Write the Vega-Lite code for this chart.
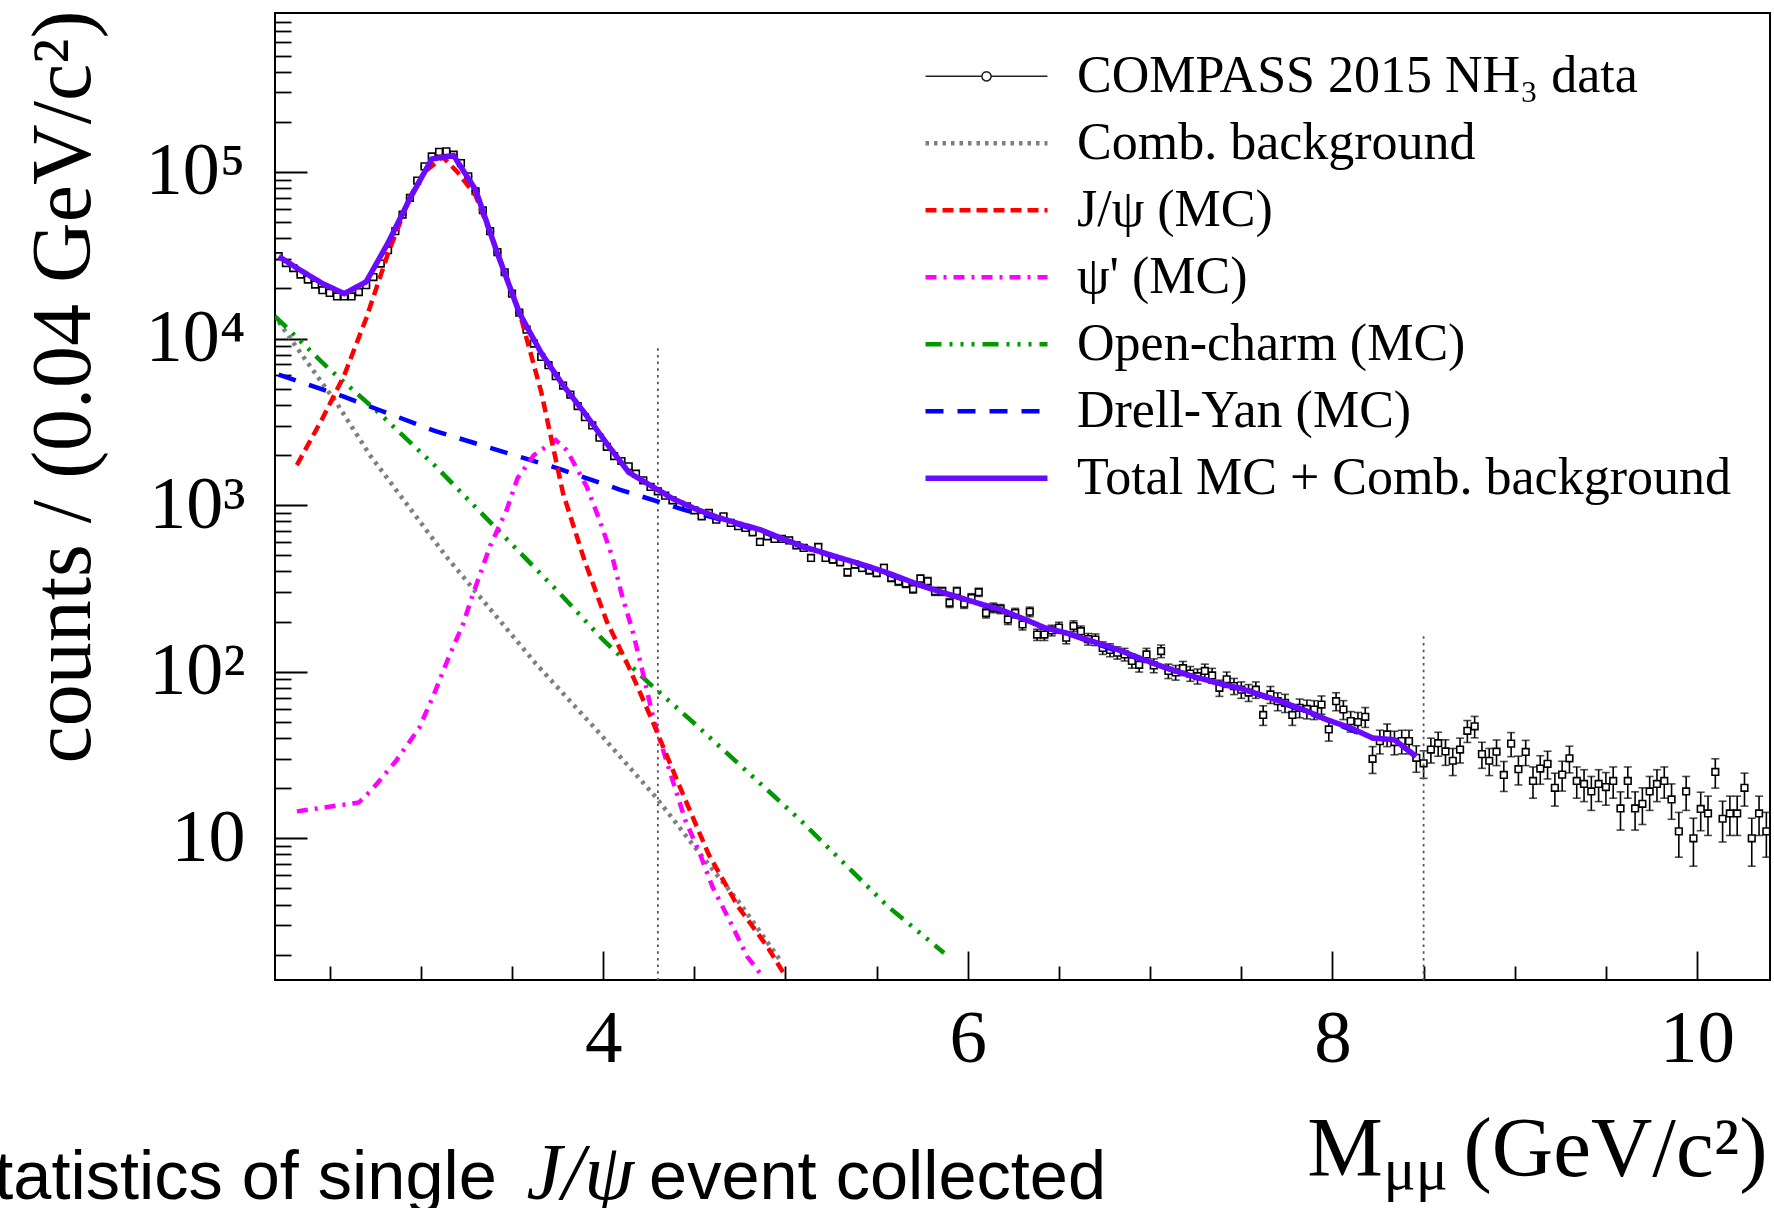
{
"$schema": "https://vega.github.io/schema/vega-lite/v6.json",
"width": 1495, "height": 967,
"autosize": {"type": "none"},
"padding": {"left": 275, "top": 13, "right": 4, "bottom": 228},
"background": "white",
"config": {"view": {"stroke": "black", "strokeWidth": 2}, "font": "Liberation Serif"},
"title": {"text": "statistics of single\u00a0\u00a0\u00a0\u00a0\u00a0\u00a0\u00a0\u00a0event collected", "orient": "bottom", "anchor": "start", "frame": "group", "font": "Liberation Sans", "fontSize": 68.5, "fontWeight": "normal", "color": "black", "baseline": "alphabetic", "offset": 0, "dx": -315, "dy": -15},
"datasets": {
"pts": [
{"m":2.22,"n":31200,"lo":31023,"hi":31377},{"m":2.26,"n":28400,"lo":28231,"hi":28569},{"m":2.30,"n":26500,"lo":26337,"hi":26663},{"m":2.34,"n":24200,"lo":24044,"hi":24356},{"m":2.38,"n":22600,"lo":22450,"hi":22750},{"m":2.42,"n":21100,"lo":20955,"hi":21245},{"m":2.46,"n":19500,"lo":19360,"hi":19640},{"m":2.50,"n":18800,"lo":18663,"hi":18937},{"m":2.54,"n":17900,"lo":17766,"hi":18034},{"m":2.58,"n":17900,"lo":17766,"hi":18034},{"m":2.62,"n":17900,"lo":17766,"hi":18034},{"m":2.66,"n":19000,"lo":18862,"hi":19138},{"m":2.70,"n":20900,"lo":20755,"hi":21045},{"m":2.74,"n":23400,"lo":23247,"hi":23553},{"m":2.78,"n":28200,"lo":28032,"hi":28368},{"m":2.82,"n":33900,"lo":33716,"hi":34084},{"m":2.86,"n":44100,"lo":43890,"hi":44310},{"m":2.90,"n":55500,"lo":55264,"hi":55736},{"m":2.94,"n":69800,"lo":69536,"hi":70064},{"m":2.98,"n":88700,"lo":88402,"hi":88998},
{"m":3.02,"n":108000,"lo":107671,"hi":108329},{"m":3.06,"n":124000,"lo":123648,"hi":124352},{"m":3.10,"n":132000,"lo":131637,"hi":132363},{"m":3.14,"n":133000,"lo":132635,"hi":133365},{"m":3.18,"n":127000,"lo":126644,"hi":127356},{"m":3.22,"n":113000,"lo":112664,"hi":113336},{"m":3.26,"n":94200,"lo":93893,"hi":94507},{"m":3.30,"n":76600,"lo":76323,"hi":76877},{"m":3.34,"n":58900,"lo":58657,"hi":59143},{"m":3.38,"n":44100,"lo":43890,"hi":44310},{"m":3.42,"n":33000,"lo":32818,"hi":33182},{"m":3.46,"n":25000,"lo":24842,"hi":25158},{"m":3.50,"n":18600,"lo":18464,"hi":18736},{"m":3.54,"n":14300,"lo":14180,"hi":14420},{"m":3.58,"n":11300,"lo":11194,"hi":11406},{"m":3.62,"n":9330,"lo":9233,"hi":9427},{"m":3.66,"n":7760,"lo":7672,"hi":7848},{"m":3.70,"n":6920,"lo":6837,"hi":7003},{"m":3.74,"n":5940,"lo":5863,"hi":6017},{"m":3.78,"n":5220,"lo":5148,"hi":5292},
{"m":3.82,"n":4610,"lo":4542,"hi":4678},{"m":3.86,"n":3930,"lo":3867,"hi":3993},{"m":3.90,"n":3370,"lo":3312,"hi":3428},{"m":3.94,"n":3010,"lo":2955,"hi":3065},{"m":3.98,"n":2540,"lo":2490,"hi":2590},{"m":4.02,"n":2240,"lo":2193,"hi":2287},{"m":4.06,"n":1970,"lo":1926,"hi":2014},{"m":4.10,"n":1840,"lo":1797,"hi":1883},{"m":4.14,"n":1710,"lo":1669,"hi":1751},{"m":4.18,"n":1545,"lo":1506,"hi":1584},{"m":4.22,"n":1409,"lo":1371,"hi":1447},{"m":4.26,"n":1285,"lo":1249,"hi":1321},{"m":4.30,"n":1211,"lo":1176,"hi":1246},{"m":4.34,"n":1140,"lo":1106,"hi":1174},{"m":4.38,"n":1069,"lo":1036,"hi":1102},{"m":4.42,"n":1007,"lo":975,"hi":1039},{"m":4.46,"n":984,"lo":953,"hi":1015},{"m":4.50,"n":931,"lo":900,"hi":962},{"m":4.54,"n":857,"lo":828,"hi":886},{"m":4.58,"n":897,"lo":867,"hi":927},
{"m":4.62,"n":818,"lo":789,"hi":847},{"m":4.66,"n":857,"lo":828,"hi":886},{"m":4.70,"n":782,"lo":754,"hi":810},{"m":4.74,"n":747,"lo":720,"hi":774},{"m":4.78,"n":730,"lo":703,"hi":757},{"m":4.82,"n":687,"lo":661,"hi":713},{"m":4.86,"n":601,"lo":577,"hi":625},{"m":4.90,"n":650,"lo":625,"hi":676},{"m":4.94,"n":627,"lo":602,"hi":652},{"m":4.98,"n":627,"lo":602,"hi":652},{"m":5.02,"n":615,"lo":590,"hi":640},{"m":5.06,"n":574,"lo":550,"hi":598},{"m":5.10,"n":553,"lo":530,"hi":577},{"m":5.14,"n":482,"lo":460,"hi":504},{"m":5.18,"n":561,"lo":537,"hi":585},{"m":5.22,"n":482,"lo":460,"hi":504},{"m":5.26,"n":471,"lo":449,"hi":493},{"m":5.30,"n":454,"lo":433,"hi":475},{"m":5.34,"n":395,"lo":375,"hi":415},{"m":5.38,"n":440,"lo":419,"hi":461},
{"m":5.42,"n":420,"lo":400,"hi":440},{"m":5.46,"n":406,"lo":386,"hi":426},{"m":5.50,"n":392,"lo":372,"hi":412},{"m":5.54,"n":420,"lo":400,"hi":440},{"m":5.58,"n":366,"lo":347,"hi":385},{"m":5.62,"n":349,"lo":330,"hi":368},{"m":5.66,"n":338,"lo":320,"hi":356},{"m":5.70,"n":314,"lo":296,"hi":332},{"m":5.74,"n":362,"lo":343,"hi":381},{"m":5.78,"n":349,"lo":330,"hi":368},{"m":5.82,"n":304,"lo":287,"hi":321},{"m":5.86,"n":304,"lo":287,"hi":321},{"m":5.90,"n":259,"lo":243,"hi":275},{"m":5.94,"n":304,"lo":287,"hi":321},{"m":5.98,"n":256,"lo":240,"hi":272},{"m":6.02,"n":277,"lo":260,"hi":294},{"m":6.06,"n":300,"lo":283,"hi":317},{"m":6.10,"n":225,"lo":210,"hi":240},{"m":6.14,"n":242,"lo":226,"hi":258},{"m":6.18,"n":238,"lo":223,"hi":253},
{"m":6.22,"n":206,"lo":192,"hi":220},{"m":6.26,"n":225,"lo":210,"hi":240},{"m":6.30,"n":192,"lo":178,"hi":206},{"m":6.34,"n":229,"lo":214,"hi":244},{"m":6.38,"n":167,"lo":154,"hi":180},{"m":6.42,"n":167,"lo":154,"hi":180},{"m":6.46,"n":177,"lo":164,"hi":190},{"m":6.50,"n":184,"lo":170,"hi":198},{"m":6.54,"n":160,"lo":147,"hi":173},{"m":6.58,"n":188,"lo":174,"hi":202},{"m":6.62,"n":175,"lo":162,"hi":188},{"m":6.66,"n":157,"lo":144.5,"hi":169.5},{"m":6.70,"n":156,"lo":143.5,"hi":168.5},{"m":6.74,"n":139,"lo":127,"hi":151},{"m":6.78,"n":135,"lo":123,"hi":147},{"m":6.82,"n":130,"lo":119,"hi":141},{"m":6.86,"n":127,"lo":116,"hi":138},{"m":6.90,"n":116,"lo":105,"hi":127},{"m":6.94,"n":110,"lo":99.5,"hi":120.5},{"m":6.98,"n":127,"lo":116,"hi":138},
{"m":7.02,"n":109,"lo":98.6,"hi":119.4},{"m":7.06,"n":133,"lo":121.5,"hi":144.5},{"m":7.10,"n":101,"lo":91,"hi":111},{"m":7.14,"n":99,"lo":89,"hi":109},{"m":7.18,"n":105,"lo":94.8,"hi":115.2},{"m":7.22,"n":97.5,"lo":87.6,"hi":107.4},{"m":7.26,"n":94,"lo":84.3,"hi":103.7},{"m":7.30,"n":101,"lo":91,"hi":111},{"m":7.34,"n":95,"lo":85.3,"hi":104.7},{"m":7.38,"n":80,"lo":71.1,"hi":88.9},{"m":7.42,"n":90,"lo":80.5,"hi":99.5},{"m":7.46,"n":82,"lo":72.9,"hi":91.1},{"m":7.50,"n":78,"lo":69.2,"hi":86.8},{"m":7.54,"n":75,"lo":66.3,"hi":83.7},{"m":7.58,"n":78,"lo":69.2,"hi":86.8},{"m":7.62,"n":55,"lo":47.6,"hi":62.4},{"m":7.66,"n":73,"lo":64.5,"hi":81.5},{"m":7.70,"n":66.5,"lo":58.3,"hi":74.7},{"m":7.74,"n":65,"lo":56.9,"hi":73.1},{"m":7.78,"n":55,"lo":47.6,"hi":62.4},
{"m":7.82,"n":60.7,"lo":52.9,"hi":68.5},{"m":7.86,"n":59.8,"lo":52.1,"hi":67.5},{"m":7.90,"n":59.3,"lo":51.6,"hi":67},{"m":7.94,"n":63.5,"lo":55.5,"hi":71.5},{"m":7.98,"n":45,"lo":38.3,"hi":51.7},{"m":8.02,"n":66.5,"lo":58.3,"hi":74.7},{"m":8.06,"n":59.3,"lo":51.6,"hi":67},{"m":8.10,"n":50.5,"lo":43.4,"hi":57.6},{"m":8.14,"n":49.8,"lo":42.7,"hi":56.9},{"m":8.18,"n":53.6,"lo":46.3,"hi":60.9},{"m":8.22,"n":30,"lo":24.5,"hi":35.5},{"m":8.26,"n":38.3,"lo":32.1,"hi":44.5},{"m":8.30,"n":42,"lo":35.5,"hi":48.5},{"m":8.34,"n":37.8,"lo":31.7,"hi":43.9},{"m":8.38,"n":38.3,"lo":32.1,"hi":44.5},{"m":8.42,"n":38.3,"lo":32.1,"hi":44.5},{"m":8.46,"n":30.4,"lo":24.9,"hi":35.9},{"m":8.50,"n":28.2,"lo":22.9,"hi":33.5},{"m":8.54,"n":34.1,"lo":28.3,"hi":39.9},{"m":8.58,"n":37.2,"lo":31.1,"hi":43.3},
{"m":8.62,"n":33.2,"lo":27.4,"hi":39},{"m":8.66,"n":29.2,"lo":23.8,"hi":34.6},{"m":8.70,"n":34.1,"lo":28.3,"hi":39.9},{"m":8.74,"n":44.2,"lo":37.6,"hi":50.9},{"m":8.78,"n":47,"lo":40.1,"hi":53.9},{"m":8.82,"n":32,"lo":26.3,"hi":37.7},{"m":8.86,"n":29.2,"lo":23.8,"hi":34.6},{"m":8.90,"n":33.1,"lo":27.3,"hi":38.9},{"m":8.94,"n":24,"lo":19.1,"hi":28.9},{"m":8.98,"n":37,"lo":30.9,"hi":43.1},{"m":9.02,"n":26,"lo":20.9,"hi":31.1},{"m":9.06,"n":33,"lo":27.3,"hi":38.7},{"m":9.10,"n":22.1,"lo":17.4,"hi":26.8},{"m":9.14,"n":26.2,"lo":21.1,"hi":31.3},{"m":9.18,"n":28,"lo":22.7,"hi":33.3},{"m":9.22,"n":20.1,"lo":15.6,"hi":24.6},{"m":9.26,"n":24.1,"lo":19.2,"hi":29},{"m":9.30,"n":30.2,"lo":24.7,"hi":35.7},{"m":9.34,"n":22.1,"lo":17.4,"hi":26.8},{"m":9.38,"n":21.2,"lo":16.6,"hi":25.8},
{"m":9.42,"n":19.1,"lo":14.7,"hi":23.5},{"m":9.46,"n":21.2,"lo":16.6,"hi":25.8},{"m":9.50,"n":20.3,"lo":15.8,"hi":24.8},{"m":9.54,"n":22.1,"lo":17.4,"hi":26.8},{"m":9.58,"n":15.1,"lo":11.2,"hi":19},{"m":9.62,"n":22.1,"lo":17.4,"hi":26.8},{"m":9.66,"n":15.1,"lo":11.2,"hi":19},{"m":9.70,"n":16.1,"lo":12.1,"hi":20.1},{"m":9.74,"n":19.1,"lo":14.7,"hi":23.5},{"m":9.78,"n":21.2,"lo":16.6,"hi":25.8},{"m":9.82,"n":22.1,"lo":17.4,"hi":26.8},{"m":9.86,"n":17.1,"lo":13,"hi":21.2},{"m":9.90,"n":11,"lo":7.7,"hi":14.3},{"m":9.94,"n":19.1,"lo":14.7,"hi":23.5},{"m":9.98,"n":10,"lo":6.8,"hi":13.2},{"m":10.02,"n":15,"lo":11.1,"hi":18.9},{"m":10.06,"n":14.1,"lo":10.4,"hi":17.9},{"m":10.10,"n":25,"lo":20,"hi":30},{"m":10.14,"n":13.1,"lo":9.5,"hi":16.7},{"m":10.18,"n":14.1,"lo":10.4,"hi":17.9},
{"m":10.22,"n":14.1,"lo":10.4,"hi":17.9},{"m":10.26,"n":20.1,"lo":15.6,"hi":24.6},{"m":10.30,"n":10,"lo":6.8,"hi":13.2},{"m":10.34,"n":14.1,"lo":10.4,"hi":17.9},{"m":10.38,"n":11,"lo":7.7,"hi":14.3}
],
"curves": [
{"s":"Comb. background","m":2.22,"n":12600},{"s":"Comb. background","m":2.33,"n":8500},{"s":"Comb. background","m":2.54,"n":4070},{"s":"Comb. background","m":2.72,"n":2000},{"s":"Comb. background","m":3.14,"n":490},{"s":"Comb. background","m":3.63,"n":112},{"s":"Comb. background","m":3.98,"n":42.7},{"s":"Comb. background","m":4.29,"n":17.6},{"s":"Comb. background","m":4.53,"n":8.1},{"s":"Comb. background","m":4.75,"n":4.07},{"s":"Comb. background","m":4.97,"n":1.86},
{"s":"Open-charm (MC)","m":2.20,"n":13600},{"s":"Open-charm (MC)","m":2.49,"n":6670},{"s":"Open-charm (MC)","m":2.77,"n":3580},{"s":"Open-charm (MC)","m":3.08,"n":1714},{"s":"Open-charm (MC)","m":3.76,"n":297},{"s":"Open-charm (MC)","m":4.00,"n":155},{"s":"Open-charm (MC)","m":4.25,"n":85.7},{"s":"Open-charm (MC)","m":4.49,"n":50.1},{"s":"Open-charm (MC)","m":5.08,"n":12.9},{"s":"Open-charm (MC)","m":5.56,"n":3.91},{"s":"Open-charm (MC)","m":5.87,"n":2.05},
{"s":"Drell-Yan (MC)","m":2.22,"n":6080},{"s":"Drell-Yan (MC)","m":2.57,"n":4510},{"s":"Drell-Yan (MC)","m":3.08,"n":2780},{"s":"Drell-Yan (MC)","m":3.59,"n":1880},{"s":"Drell-Yan (MC)","m":3.76,"n":1650},{"s":"Drell-Yan (MC)","m":4.09,"n":1240},{"s":"Drell-Yan (MC)","m":4.44,"n":940},{"s":"Drell-Yan (MC)","m":4.62,"n":832},{"s":"Drell-Yan (MC)","m":4.86,"n":700},{"s":"Drell-Yan (MC)","m":5.10,"n":556},{"s":"Drell-Yan (MC)","m":5.46,"n":422},{"s":"Drell-Yan (MC)","m":5.70,"n":339},{"s":"Drell-Yan (MC)","m":5.94,"n":279},{"s":"Drell-Yan (MC)","m":6.18,"n":234},{"s":"Drell-Yan (MC)","m":6.42,"n":183},{"s":"Drell-Yan (MC)","m":6.54,"n":170},{"s":"Drell-Yan (MC)","m":7.14,"n":100},{"s":"Drell-Yan (MC)","m":7.50,"n":78.9},{"s":"Drell-Yan (MC)","m":7.86,"n":57.1},{"s":"Drell-Yan (MC)","m":8.22,"n":39.8},{"s":"Drell-Yan (MC)","m":8.34,"n":38.9},{"s":"Drell-Yan (MC)","m":8.46,"n":30.6},
{"s":"ψ' (MC)","m":2.32,"n":14.5},{"s":"ψ' (MC)","m":2.66,"n":16.4},{"s":"ψ' (MC)","m":2.73,"n":19.5},{"s":"ψ' (MC)","m":2.86,"n":28.8},{"s":"ψ' (MC)","m":2.99,"n":45.7},{"s":"ψ' (MC)","m":3.07,"n":72.4},{"s":"ψ' (MC)","m":3.15,"n":120},{"s":"ψ' (MC)","m":3.23,"n":191},{"s":"ψ' (MC)","m":3.28,"n":280},{"s":"ψ' (MC)","m":3.38,"n":569},{"s":"ψ' (MC)","m":3.47,"n":931},{"s":"ψ' (MC)","m":3.53,"n":1450},{"s":"ψ' (MC)","m":3.62,"n":1995},{"s":"ψ' (MC)","m":3.74,"n":2455},{"s":"ψ' (MC)","m":3.80,"n":2140},{"s":"ψ' (MC)","m":3.91,"n":1290},{"s":"ψ' (MC)","m":3.98,"n":813},{"s":"ψ' (MC)","m":4.05,"n":490},{"s":"ψ' (MC)","m":4.10,"n":295},{"s":"ψ' (MC)","m":4.16,"n":178},{"s":"ψ' (MC)","m":4.21,"n":107},{"s":"ψ' (MC)","m":4.28,"n":50},{"s":"ψ' (MC)","m":4.38,"n":22.4},{"s":"ψ' (MC)","m":4.45,"n":12.9},{"s":"ψ' (MC)","m":4.53,"n":8.1},{"s":"ψ' (MC)","m":4.60,"n":5.1},{"s":"ψ' (MC)","m":4.70,"n":3.1},{"s":"ψ' (MC)","m":4.79,"n":1.95},{"s":"ψ' (MC)","m":4.86,"n":1.55},
{"s":"J/ψ (MC)","m":2.32,"n":1740},{"s":"J/ψ (MC)","m":2.46,"n":3310},{"s":"J/ψ (MC)","m":2.58,"n":6030},{"s":"J/ψ (MC)","m":2.70,"n":13200},{"s":"J/ψ (MC)","m":2.82,"n":32400},{"s":"J/ψ (MC)","m":2.94,"n":70800},{"s":"J/ψ (MC)","m":3.02,"n":100000},{"s":"J/ψ (MC)","m":3.12,"n":123000},{"s":"J/ψ (MC)","m":3.20,"n":100000},{"s":"J/ψ (MC)","m":3.30,"n":72400},{"s":"J/ψ (MC)","m":3.42,"n":33100},{"s":"J/ψ (MC)","m":3.54,"n":14500},{"s":"J/ψ (MC)","m":3.66,"n":4790},{"s":"J/ψ (MC)","m":3.78,"n":1175},{"s":"J/ψ (MC)","m":3.90,"n":457},{"s":"J/ψ (MC)","m":4.02,"n":200},{"s":"J/ψ (MC)","m":4.14,"n":107},{"s":"J/ψ (MC)","m":4.26,"n":53.7},{"s":"J/ψ (MC)","m":4.42,"n":20.4},{"s":"J/ψ (MC)","m":4.58,"n":7.94},{"s":"J/ψ (MC)","m":4.74,"n":3.89},{"s":"J/ψ (MC)","m":4.90,"n":2.24},{"s":"J/ψ (MC)","m":4.99,"n":1.55}
],
"total": [
{"s":"Total MC + Comb. background","m":2.22,"n":31100},{"s":"Total MC + Comb. background","m":2.34,"n":25700},{"s":"Total MC + Comb. background","m":2.46,"n":21400},{"s":"Total MC + Comb. background","m":2.58,"n":18600},{"s":"Total MC + Comb. background","m":2.70,"n":21900},{"s":"Total MC + Comb. background","m":2.82,"n":37500},{"s":"Total MC + Comb. background","m":2.94,"n":69200},{"s":"Total MC + Comb. background","m":3.06,"n":119700},{"s":"Total MC + Comb. background","m":3.18,"n":125300},{"s":"Total MC + Comb. background","m":3.30,"n":78300},{"s":"Total MC + Comb. background","m":3.42,"n":32400},{"s":"Total MC + Comb. background","m":3.54,"n":14260},{"s":"Total MC + Comb. background","m":3.66,"n":8200},{"s":"Total MC + Comb. background","m":3.78,"n":5250},{"s":"Total MC + Comb. background","m":3.90,"n":3550},{"s":"Total MC + Comb. background","m":4.02,"n":2340},{"s":"Total MC + Comb. background","m":4.14,"n":1574},{"s":"Total MC + Comb. background","m":4.26,"n":1312},{"s":"Total MC + Comb. background","m":4.38,"n":1096},{"s":"Total MC + Comb. background","m":4.50,"n":955},{"s":"Total MC + Comb. background","m":4.62,"n":851},{"s":"Total MC + Comb. background","m":4.74,"n":776},{"s":"Total MC + Comb. background","m":4.86,"n":713},{"s":"Total MC + Comb. background","m":4.98,"n":631},{"s":"Total MC + Comb. background","m":5.10,"n":562},{"s":"Total MC + Comb. background","m":5.22,"n":513},{"s":"Total MC + Comb. background","m":5.34,"n":468},{"s":"Total MC + Comb. background","m":5.46,"n":427},{"s":"Total MC + Comb. background","m":5.58,"n":385},{"s":"Total MC + Comb. background","m":5.70,"n":343},{"s":"Total MC + Comb. background","m":5.82,"n":309},{"s":"Total MC + Comb. background","m":5.94,"n":282},{"s":"Total MC + Comb. background","m":6.06,"n":257},{"s":"Total MC + Comb. background","m":6.18,"n":236},{"s":"Total MC + Comb. background","m":6.30,"n":209},{"s":"Total MC + Comb. background","m":6.42,"n":184},{"s":"Total MC + Comb. background","m":6.54,"n":171},{"s":"Total MC + Comb. background","m":6.66,"n":155},{"s":"Total MC + Comb. background","m":6.78,"n":141},{"s":"Total MC + Comb. background","m":6.90,"n":126},{"s":"Total MC + Comb. background","m":7.02,"n":112},{"s":"Total MC + Comb. background","m":7.14,"n":101},{"s":"Total MC + Comb. background","m":7.26,"n":92},{"s":"Total MC + Comb. background","m":7.38,"n":85},{"s":"Total MC + Comb. background","m":7.50,"n":79},{"s":"Total MC + Comb. background","m":7.62,"n":72},{"s":"Total MC + Comb. background","m":7.74,"n":65},{"s":"Total MC + Comb. background","m":7.86,"n":58},{"s":"Total MC + Comb. background","m":7.98,"n":51},{"s":"Total MC + Comb. background","m":8.10,"n":46},{"s":"Total MC + Comb. background","m":8.22,"n":40},{"s":"Total MC + Comb. background","m":8.34,"n":39},{"s":"Total MC + Comb. background","m":8.46,"n":31}
],
"vl": [{"m":4.3,"a":1.4,"b":9060},{"m":8.5,"a":1.4,"b":172}]
},
"resolve": {"axis": {"x": "independent", "y": "independent"}},
"layer": [
{
"data": {"name": "pts"},
"mark": {"type": "rule", "color": "black", "strokeWidth": 1.6},
"encoding": {
"x": {"field": "m", "type": "quantitative", "scale": {"domain": [2.2, 10.4], "nice": false, "zero": false},
 "axis": {"orient": "bottom", "values": [2.5,3,3.5,4.5,5,5.5,6.5,7,7.5,8.5,9,9.5], "tickSize": -14, "tickWidth": 1.8, "tickColor": "black", "labels": false, "domain": false, "grid": false,
 "title": "μμ", "titleFont": "Liberation Serif", "titleFontSize": 60, "titleFontWeight": "normal", "titleColor": "black", "titleAngle": 0, "titleAlign": "left", "titleBaseline": "alphabetic", "titleX": 1108, "titleY": 208}},
"y": {"field": "lo", "type": "quantitative", "scale": {"type": "log", "domain": [1.41, 900000], "nice": false},
 "axis": {"orient": "left", "values": [2,3,4,5,6,7,8,9,20,30,40,50,60,70,80,90,200,300,400,500,600,700,800,900,2000,3000,4000,5000,6000,7000,8000,9000,20000,30000,40000,50000,60000,70000,80000,90000,200000,300000,400000,500000,600000,700000,800000], "tickSize": -16, "tickWidth": 1.8, "tickColor": "black", "labels": false, "domain": false, "grid": false,
 "title": "J/ψ", "titleFont": "Liberation Serif", "titleFontStyle": "italic", "titleFontSize": 80, "titleFontWeight": "normal", "titleColor": "black", "titleAngle": 0, "titleAlign": "left", "titleBaseline": "alphabetic", "titleX": 251, "titleY": 1185}},
"y2": {"field": "hi"}
}
},
{
"data": {"name": "pts"},
"mark": {"type": "tick", "orient": "horizontal", "color": "black", "size": 8, "thickness": 1.6},
"encoding": {
"x": {"field": "m", "type": "quantitative", "scale": {"domain": [2.2, 10.4], "nice": false, "zero": false}, "axis": null},
"y": {"field": "lo", "type": "quantitative", "scale": {"type": "log", "domain": [1.41, 900000], "nice": false}, "axis": null}
}
},
{
"data": {"name": "pts"},
"mark": {"type": "tick", "orient": "horizontal", "color": "black", "size": 8, "thickness": 1.6},
"encoding": {
"x": {"field": "m", "type": "quantitative", "scale": {"domain": [2.2, 10.4], "nice": false, "zero": false}, "axis": null},
"y": {"field": "hi", "type": "quantitative", "scale": {"type": "log", "domain": [1.41, 900000], "nice": false}, "axis": null}
}
},
{
"data": {"name": "pts"},
"mark": {"type": "point", "shape": "square", "size": 44, "fill": "white", "stroke": "black", "strokeWidth": 1.6, "opacity": 1, "filled": true},
"encoding": {
"x": {"field": "m", "type": "quantitative", "scale": {"domain": [2.2, 10.4], "nice": false, "zero": false}, "axis": null},
"y": {"field": "n", "type": "quantitative", "scale": {"type": "log", "domain": [1.41, 900000], "nice": false}, "axis": null}
}
},
{
"data": {"name": "vl"},
"mark": {"type": "rule", "color": "#555555", "strokeWidth": 1.8, "strokeDash": [2.5, 4.2]},
"encoding": {
"x": {"field": "m", "type": "quantitative", "scale": {"domain": [2.2, 10.4], "nice": false, "zero": false}, "axis": null},
"y": {"field": "a", "type": "quantitative", "scale": {"type": "log", "domain": [1.41, 900000], "nice": false}, "axis": null},
"y2": {"field": "b"}
}
},
{
"data": {"name": "curves"},
"mark": {"type": "line", "strokeWidth": 4.5, "clip": true},
"encoding": {
"x": {"field": "m", "type": "quantitative", "scale": {"domain": [2.2, 10.4], "nice": false, "zero": false}, "axis": null},
"y": {"field": "n", "type": "quantitative", "scale": {"type": "log", "domain": [1.41, 900000], "nice": false}, "axis": null},
"color": {"field": "s", "type": "nominal",
 "scale": {"domain": ["COMPASS 2015 NH₃ data", "Comb. background", "J/ψ (MC)", "ψ' (MC)", "Open-charm (MC)", "Drell-Yan (MC)", "Total MC + Comb. background"], "range": ["#222222", "#7f7f7f", "#ff0000", "#ff00ff", "#009900", "#0000ff", "#6a0aff"]},
 "legend": {"title": null, "orient": "none", "legendX": 648, "legendY": 30, "padding": 0, "columns": 1, "symbolType": "stroke", "symbolSize": 14884, "symbolStrokeWidth": 4.5, "labelFont": "Liberation Serif", "labelFontSize": 52, "labelColor": "black", "labelOffset": 27, "labelLimit": 1000, "clipHeight": 66.7, "rowPadding": 0,
  "encode": {"symbols": {"update": {"shape": {"signal": "(datum.value == 'COMPASS 2015 NH₃ data' ? 'M-1,0H-0.075M0.075,0H1M-0.075,0A0.075,0.075,0,1,1,0.075,0A0.075,0.075,0,1,1,-0.075,0' : 'M-1,0H1')"}, "strokeWidth": {"signal": "(datum.value == 'COMPASS 2015 NH₃ data' ? 1.5 : (datum.value == 'Total MC + Comb. background' ? 5.5 : 4.5))"}}}}}},
"strokeDash": {"field": "s", "type": "nominal",
 "scale": {"domain": ["COMPASS 2015 NH₃ data", "Comb. background", "J/ψ (MC)", "ψ' (MC)", "Open-charm (MC)", "Drell-Yan (MC)", "Total MC + Comb. background"], "range": [[1,0],[3.5,5],[11,6],[11,7,3,7],[16,8,3,8,3,8,3,8],[18,14],[1,0]]},
 "legend": {"title": null, "orient": "none", "legendX": 648, "legendY": 30, "padding": 0, "columns": 1, "symbolType": "stroke", "symbolSize": 14884, "symbolStrokeWidth": 4.5, "labelFont": "Liberation Serif", "labelFontSize": 52, "labelColor": "black", "labelOffset": 27, "labelLimit": 1000, "clipHeight": 66.7, "rowPadding": 0}}
}
},
{
"data": {"name": "total"},
"mark": {"type": "line", "strokeWidth": 5.5, "clip": true},
"encoding": {
"x": {"field": "m", "type": "quantitative", "scale": {"domain": [2.2, 10.4], "nice": false, "zero": false},
 "axis": {"orient": "bottom", "values": [4,6,8,10], "format": "d", "tickSize": -29, "tickWidth": 1.8, "tickColor": "black", "domain": false, "grid": false, "labelFont": "Liberation Serif", "labelFontSize": 75, "labelColor": "black", "labelPadding": 51, "labelOverlap": false, "labelFlush": false, "labelBound": false,
 "title": "M\u00a0\u00a0\u00a0\u2009(GeV/c²)", "titleFont": "Liberation Serif", "titleFontSize": 85, "titleFontWeight": "normal", "titleColor": "black", "titleAngle": 0, "titleAlign": "right", "titleBaseline": "alphabetic", "titleX": 1492, "titleY": 195}},
"y": {"field": "n", "type": "quantitative", "scale": {"type": "log", "domain": [1.41, 900000], "nice": false},
 "axis": {"orient": "left", "values": [10,100,1000,10000,100000], "labelExpr": "datum.value == 10 ? '10' : datum.value == 100 ? '10²' : datum.value == 1000 ? '10³' : datum.value == 10000 ? '10⁴' : '10⁵'", "tickSize": -32, "tickWidth": 1.8, "tickColor": "black", "domain": false, "grid": false, "labelFont": "Liberation Serif", "labelFontSize": 74, "labelColor": "black", "labelPadding": 62, "labelOverlap": false, "labelFlush": false, "labelBound": false,
 "title": "counts / (0.04 GeV/c²)", "titleFont": "Liberation Serif", "titleFontSize": 84, "titleFontWeight": "normal", "titleColor": "black", "titleAngle": -90, "titleAlign": "right", "titleBaseline": "alphabetic", "titleX": -186, "titleY": -3}},
"color": {"field": "s", "type": "nominal",
 "scale": {"domain": ["COMPASS 2015 NH₃ data", "Comb. background", "J/ψ (MC)", "ψ' (MC)", "Open-charm (MC)", "Drell-Yan (MC)", "Total MC + Comb. background"], "range": ["#222222", "#7f7f7f", "#ff0000", "#ff00ff", "#009900", "#0000ff", "#6a0aff"]},
 "legend": {"title": null, "orient": "none", "legendX": 648, "legendY": 30, "padding": 0, "columns": 1, "symbolType": "stroke", "symbolSize": 14884, "symbolStrokeWidth": 4.5, "labelFont": "Liberation Serif", "labelFontSize": 52, "labelColor": "black", "labelOffset": 27, "labelLimit": 1000, "clipHeight": 66.7, "rowPadding": 0,
  "encode": {"symbols": {"update": {"shape": {"signal": "(datum.value == 'COMPASS 2015 NH₃ data' ? 'M-1,0H-0.075M0.075,0H1M-0.075,0A0.075,0.075,0,1,1,0.075,0A0.075,0.075,0,1,1,-0.075,0' : 'M-1,0H1')"}, "strokeWidth": {"signal": "(datum.value == 'COMPASS 2015 NH₃ data' ? 1.5 : (datum.value == 'Total MC + Comb. background' ? 5.5 : 4.5))"}}}}}},
"strokeDash": {"field": "s", "type": "nominal",
 "scale": {"domain": ["COMPASS 2015 NH₃ data", "Comb. background", "J/ψ (MC)", "ψ' (MC)", "Open-charm (MC)", "Drell-Yan (MC)", "Total MC + Comb. background"], "range": [[1,0],[3.5,5],[11,6],[11,7,3,7],[16,8,3,8,3,8,3,8],[18,14],[1,0]]},
 "legend": {"title": null, "orient": "none", "legendX": 648, "legendY": 30, "padding": 0, "columns": 1, "symbolType": "stroke", "symbolSize": 14884, "symbolStrokeWidth": 4.5, "labelFont": "Liberation Serif", "labelFontSize": 52, "labelColor": "black", "labelOffset": 27, "labelLimit": 1000, "clipHeight": 66.7, "rowPadding": 0}}
}
}
]
}
